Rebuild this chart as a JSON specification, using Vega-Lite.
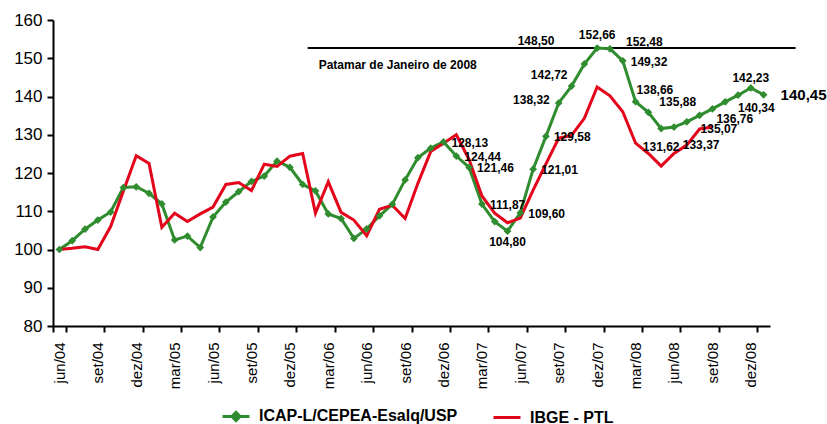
{
  "$schema": "https://vega.github.io/schema/vega-lite/v6.json",
  "width": 717,
  "height": 306,
  "autosize": {"type": "none"},
  "padding": {"left": 53, "top": 20, "right": 57, "bottom": 98},
  "background": "white",
  "config": {
    "view": {"stroke": null},
    "font": "Liberation Sans",
    "locale": {"number": {"decimal": ",", "thousands": ".", "grouping": [3], "currency": ["", ""]}},
    "axis": {"domainColor": "black", "domainWidth": 2, "tickColor": "black", "tickWidth": 2, "tickSize": 6, "labelColor": "black", "labelFont": "Liberation Sans", "grid": false},
    "axisY": {"labelFontSize": 17, "labelPadding": 5},
    "axisX": {"labelFontSize": 15, "labelPadding": 10, "labelAngle": 270}
  },
  "data": {"values": [
    {"m": "jun/04", "ICAP": 100.0, "IBGE": 100.0},
    {"m": "jul/04", "ICAP": 102.3, "IBGE": 100.3},
    {"m": "ago/04", "ICAP": 105.3, "IBGE": 100.7},
    {"m": "set/04", "ICAP": 107.7, "IBGE": 100.0},
    {"m": "out/04", "ICAP": 109.8, "IBGE": 106.0},
    {"m": "nov/04", "ICAP": 116.2, "IBGE": 115.3},
    {"m": "dez/04", "ICAP": 116.4, "IBGE": 124.5},
    {"m": "jan/05", "ICAP": 114.7, "IBGE": 122.5},
    {"m": "fev/05", "ICAP": 111.9, "IBGE": 105.8},
    {"m": "mar/05", "ICAP": 102.5, "IBGE": 109.5},
    {"m": "abr/05", "ICAP": 103.5, "IBGE": 107.3},
    {"m": "mai/05", "ICAP": 100.5, "IBGE": 109.3},
    {"m": "jun/05", "ICAP": 108.5, "IBGE": 111.1},
    {"m": "jul/05", "ICAP": 112.4, "IBGE": 117.0},
    {"m": "ago/05", "ICAP": 115.1, "IBGE": 117.5},
    {"m": "set/05", "ICAP": 117.8, "IBGE": 115.4},
    {"m": "out/05", "ICAP": 119.2, "IBGE": 122.3},
    {"m": "nov/05", "ICAP": 123.1, "IBGE": 121.7},
    {"m": "dez/05", "ICAP": 121.5, "IBGE": 124.4},
    {"m": "jan/06", "ICAP": 117.0, "IBGE": 125.1},
    {"m": "fev/06", "ICAP": 115.3, "IBGE": 109.5},
    {"m": "mar/06", "ICAP": 109.3, "IBGE": 117.7},
    {"m": "abr/06", "ICAP": 108.1, "IBGE": 109.7},
    {"m": "mai/06", "ICAP": 102.9, "IBGE": 107.7},
    {"m": "jun/06", "ICAP": 105.4, "IBGE": 103.6},
    {"m": "jul/06", "ICAP": 108.8, "IBGE": 110.5},
    {"m": "ago/06", "ICAP": 111.8, "IBGE": 111.6},
    {"m": "set/06", "ICAP": 118.2, "IBGE": 108.1},
    {"m": "out/06", "ICAP": 124.0, "IBGE": 117.3},
    {"m": "nov/06", "ICAP": 126.5, "IBGE": 125.6},
    {"m": "dez/06", "ICAP": 128.13, "IBGE": 127.8},
    {"m": "jan/07", "ICAP": 124.44, "IBGE": 130.0},
    {"m": "fev/07", "ICAP": 121.46, "IBGE": 123.5},
    {"m": "mar/07", "ICAP": 111.87, "IBGE": 114.0},
    {"m": "abr/07", "ICAP": 107.3, "IBGE": 109.5},
    {"m": "mai/07", "ICAP": 104.80, "IBGE": 107.0},
    {"m": "jun/07", "ICAP": 109.60, "IBGE": 108.2},
    {"m": "jul/07", "ICAP": 121.01, "IBGE": 115.5},
    {"m": "ago/07", "ICAP": 129.58, "IBGE": 122.4},
    {"m": "set/07", "ICAP": 138.32, "IBGE": 129.1},
    {"m": "out/07", "ICAP": 142.72, "IBGE": 129.8},
    {"m": "nov/07", "ICAP": 148.50, "IBGE": 134.3},
    {"m": "dez/07", "ICAP": 152.66, "IBGE": 142.5},
    {"m": "jan/08", "ICAP": 152.48, "IBGE": 140.2},
    {"m": "fev/08", "ICAP": 149.32, "IBGE": 136.0},
    {"m": "mar/08", "ICAP": 138.66, "IBGE": 127.8},
    {"m": "abr/08", "ICAP": 135.88, "IBGE": 125.1},
    {"m": "mai/08", "ICAP": 131.62, "IBGE": 121.8},
    {"m": "jun/08", "ICAP": 132.0, "IBGE": 125.1},
    {"m": "jul/08", "ICAP": 133.37, "IBGE": 127.3},
    {"m": "ago/08", "ICAP": 135.07, "IBGE": 131.5},
    {"m": "set/08", "ICAP": 136.76, "IBGE": 132.0},
    {"m": "out/08", "ICAP": 138.6},
    {"m": "nov/08", "ICAP": 140.34},
    {"m": "dez/08", "ICAP": 142.23},
    {"m": "jan/09", "ICAP": 140.45}
  ]},
  "encoding": {
    "x": {
      "field": "m", "type": "ordinal", "title": null,
      "scale": {"type": "band", "paddingInner": 0, "paddingOuter": 0, "domain": ["jun/04","jul/04","ago/04","set/04","out/04","nov/04","dez/04","jan/05","fev/05","mar/05","abr/05","mai/05","jun/05","jul/05","ago/05","set/05","out/05","nov/05","dez/05","jan/06","fev/06","mar/06","abr/06","mai/06","jun/06","jul/06","ago/06","set/06","out/06","nov/06","dez/06","jan/07","fev/07","mar/07","abr/07","mai/07","jun/07","jul/07","ago/07","set/07","out/07","nov/07","dez/07","jan/08","fev/08","mar/08","abr/08","mai/08","jun/08","jul/08","ago/08","set/08","out/08","nov/08","dez/08","jan/09"]},
      "axis": {"values": ["jun/04","set/04","dez/04","mar/05","jun/05","set/05","dez/05","mar/06","jun/06","set/06","dez/06","mar/07","jun/07","set/07","dez/07","mar/08","jun/08","set/08","dez/08"], "tickBand": "extent", "labelAngle": 270, "labelFontSize": 15, "labelPadding": 10}
    }
  },
  "layer": [
    {
      "data": {"values": [{"a": "jan/06", "b": "jan/09", "lvl": 152.66}]},
      "mark": {"type": "rule", "color": "black", "strokeWidth": 2, "xOffset": 5, "x2Offset": 32},
      "encoding": {
        "x": {"field": "a", "type": "ordinal", "title": null},
        "x2": {"field": "b"},
        "y": {"field": "lvl", "type": "quantitative", "title": null, "scale": {"domain": [80, 160], "nice": false, "zero": false}, "axis": {"values": [80, 90, 100, 110, 120, 130, 140, 150, 160]}}
      }
    },
    {
      "data": {"values": [{"a": "jan/06", "lvl": 152.66, "t": "Patamar de Janeiro de 2008"}]},
      "mark": {"type": "text", "align": "left", "baseline": "middle", "dx": 16, "dy": 17, "fontSize": 12, "fontWeight": "bold", "color": "black"},
      "encoding": {
        "x": {"field": "a", "type": "ordinal", "title": null},
        "y": {"field": "lvl", "type": "quantitative", "title": null, "axis": {"values": [80, 90, 100, 110, 120, 130, 140, 150, 160]}},
        "text": {"field": "t"}
      }
    },
    {
      "transform": [{"fold": ["ICAP", "IBGE"], "as": ["s", "v"]}],
      "mark": {"type": "line", "strokeWidth": 3},
      "encoding": {
        "y": {"field": "v", "type": "quantitative", "title": null, "axis": {"values": [80, 90, 100, 110, 120, 130, 140, 150, 160]}},
        "color": {
          "field": "s", "type": "nominal",
          "scale": {"domain": ["ICAP", "IBGE"], "range": ["#2f8c2f", "#e3051b"]},
          "legend": {
            "orient": "none", "legendX": 168, "legendY": 381, "direction": "horizontal", "columns": 2, "title": null,
            "labelFontSize": 16, "labelFontWeight": "bold", "labelFont": "Liberation Sans", "labelColor": "black",
            "symbolSize": 729, "symbolStrokeWidth": 3, "labelOffset": 8, "columnPadding": 29, "padding": 0, "labelLimit": 400,
            "labelExpr": "datum.label == 'ICAP' ? 'ICAP-L/CEPEA-Esalq/USP' : 'IBGE - PTL'",
            "symbolType": "M-1,0H1",
            "encode": {"symbols": {"update": {
              "shape": [{"test": "datum.value == 'ICAP'", "value": "M-1,0H1M0,-0.3L0.3,0L0,0.3L-0.3,0Z"}, {"value": "M-1,0H1"}],
              "fill": [{"test": "datum.value == 'ICAP'", "value": "#2f8c2f"}, {"value": "transparent"}]
            }}}
          }
        }
      }
    },
    {
      "mark": {"type": "point", "shape": "diamond", "filled": true, "size": 60, "color": "#2f8c2f", "opacity": 1},
      "encoding": {"y": {"field": "ICAP", "type": "quantitative", "title": null, "axis": {"values": [80, 90, 100, 110, 120, 130, 140, 150, 160]}}}
    },
    {
      "transform": [{"filter": {"field": "m", "oneOf": ["dez/06","jan/07","fev/07","mar/07","jun/07","jul/07","ago/07","fev/08"]}}],
      "mark": {"type": "text", "align": "left", "baseline": "middle", "dx": 8, "dy": 1, "fontSize": 12, "fontWeight": "bold", "color": "black"},
      "encoding": {"y": {"field": "ICAP", "type": "quantitative", "title": null, "axis": {"values": [80, 90, 100, 110, 120, 130, 140, 150, 160]}}, "text": {"field": "ICAP", "type": "quantitative", "format": ".2f"}}
    },
    {
      "transform": [{"filter": {"field": "m", "oneOf": ["set/07"]}}],
      "mark": {"type": "text", "align": "right", "baseline": "middle", "dx": -9, "dy": -3, "fontSize": 12, "fontWeight": "bold", "color": "black"},
      "encoding": {"y": {"field": "ICAP", "type": "quantitative", "title": null, "axis": {"values": [80, 90, 100, 110, 120, 130, 140, 150, 160]}}, "text": {"field": "ICAP", "type": "quantitative", "format": ".2f"}}
    },
    {
      "transform": [{"filter": {"field": "m", "oneOf": ["out/07"]}}],
      "mark": {"type": "text", "align": "right", "baseline": "middle", "dx": -4, "dy": -11, "fontSize": 12, "fontWeight": "bold", "color": "black"},
      "encoding": {"y": {"field": "ICAP", "type": "quantitative", "title": null, "axis": {"values": [80, 90, 100, 110, 120, 130, 140, 150, 160]}}, "text": {"field": "ICAP", "type": "quantitative", "format": ".2f"}}
    },
    {
      "transform": [{"filter": {"field": "m", "oneOf": ["nov/07"]}}],
      "mark": {"type": "text", "align": "right", "baseline": "middle", "dx": -30, "dy": -23, "fontSize": 12, "fontWeight": "bold", "color": "black"},
      "encoding": {"y": {"field": "ICAP", "type": "quantitative", "title": null, "axis": {"values": [80, 90, 100, 110, 120, 130, 140, 150, 160]}}, "text": {"field": "ICAP", "type": "quantitative", "format": ".2f"}}
    },
    {
      "transform": [{"filter": {"field": "m", "oneOf": ["dez/07"]}}],
      "mark": {"type": "text", "align": "center", "baseline": "middle", "dy": -13, "fontSize": 12, "fontWeight": "bold", "color": "black"},
      "encoding": {"y": {"field": "ICAP", "type": "quantitative", "title": null, "axis": {"values": [80, 90, 100, 110, 120, 130, 140, 150, 160]}}, "text": {"field": "ICAP", "type": "quantitative", "format": ".2f"}}
    },
    {
      "transform": [{"filter": {"field": "m", "oneOf": ["dez/08"]}}],
      "mark": {"type": "text", "align": "center", "baseline": "middle", "dy": -10, "fontSize": 12, "fontWeight": "bold", "color": "black"},
      "encoding": {"y": {"field": "ICAP", "type": "quantitative", "title": null, "axis": {"values": [80, 90, 100, 110, 120, 130, 140, 150, 160]}}, "text": {"field": "ICAP", "type": "quantitative", "format": ".2f"}}
    },
    {
      "transform": [{"filter": {"field": "m", "oneOf": ["jan/08"]}}],
      "mark": {"type": "text", "align": "left", "baseline": "middle", "dx": 16, "dy": -7, "fontSize": 12, "fontWeight": "bold", "color": "black"},
      "encoding": {"y": {"field": "ICAP", "type": "quantitative", "title": null, "axis": {"values": [80, 90, 100, 110, 120, 130, 140, 150, 160]}}, "text": {"field": "ICAP", "type": "quantitative", "format": ".2f"}}
    },
    {
      "transform": [{"filter": {"field": "m", "oneOf": ["mar/08"]}}],
      "mark": {"type": "text", "align": "left", "baseline": "middle", "dx": 1, "dy": -12, "fontSize": 12, "fontWeight": "bold", "color": "black"},
      "encoding": {"y": {"field": "ICAP", "type": "quantitative", "title": null, "axis": {"values": [80, 90, 100, 110, 120, 130, 140, 150, 160]}}, "text": {"field": "ICAP", "type": "quantitative", "format": ".2f"}}
    },
    {
      "transform": [{"filter": {"field": "m", "oneOf": ["abr/08"]}}],
      "mark": {"type": "text", "align": "left", "baseline": "middle", "dx": 11, "dy": -10, "fontSize": 12, "fontWeight": "bold", "color": "black"},
      "encoding": {"y": {"field": "ICAP", "type": "quantitative", "title": null, "axis": {"values": [80, 90, 100, 110, 120, 130, 140, 150, 160]}}, "text": {"field": "ICAP", "type": "quantitative", "format": ".2f"}}
    },
    {
      "transform": [{"filter": {"field": "m", "oneOf": ["mai/07"]}}],
      "mark": {"type": "text", "align": "center", "baseline": "middle", "dy": 11, "fontSize": 12, "fontWeight": "bold", "color": "black"},
      "encoding": {"y": {"field": "ICAP", "type": "quantitative", "title": null, "axis": {"values": [80, 90, 100, 110, 120, 130, 140, 150, 160]}}, "text": {"field": "ICAP", "type": "quantitative", "format": ".2f"}}
    },
    {
      "transform": [{"filter": {"field": "m", "oneOf": ["mai/08"]}}],
      "mark": {"type": "text", "align": "center", "baseline": "middle", "dy": 18, "fontSize": 12, "fontWeight": "bold", "color": "black"},
      "encoding": {"y": {"field": "ICAP", "type": "quantitative", "title": null, "axis": {"values": [80, 90, 100, 110, 120, 130, 140, 150, 160]}}, "text": {"field": "ICAP", "type": "quantitative", "format": ".2f"}}
    },
    {
      "transform": [{"filter": {"field": "m", "oneOf": ["jul/08"]}}],
      "mark": {"type": "text", "align": "left", "baseline": "middle", "dx": -4, "dy": 23, "fontSize": 12, "fontWeight": "bold", "color": "black"},
      "encoding": {"y": {"field": "ICAP", "type": "quantitative", "title": null, "axis": {"values": [80, 90, 100, 110, 120, 130, 140, 150, 160]}}, "text": {"field": "ICAP", "type": "quantitative", "format": ".2f"}}
    },
    {
      "transform": [{"filter": {"field": "m", "oneOf": ["ago/08"]}}],
      "mark": {"type": "text", "align": "left", "baseline": "middle", "dx": 1, "dy": 14, "fontSize": 12, "fontWeight": "bold", "color": "black"},
      "encoding": {"y": {"field": "ICAP", "type": "quantitative", "title": null, "axis": {"values": [80, 90, 100, 110, 120, 130, 140, 150, 160]}}, "text": {"field": "ICAP", "type": "quantitative", "format": ".2f"}}
    },
    {
      "transform": [{"filter": {"field": "m", "oneOf": ["set/08"]}}],
      "mark": {"type": "text", "align": "left", "baseline": "middle", "dx": 4, "dy": 10, "fontSize": 12, "fontWeight": "bold", "color": "black"},
      "encoding": {"y": {"field": "ICAP", "type": "quantitative", "title": null, "axis": {"values": [80, 90, 100, 110, 120, 130, 140, 150, 160]}}, "text": {"field": "ICAP", "type": "quantitative", "format": ".2f"}}
    },
    {
      "transform": [{"filter": {"field": "m", "oneOf": ["nov/08"]}}],
      "mark": {"type": "text", "align": "left", "baseline": "middle", "dx": 0, "dy": 13, "fontSize": 12, "fontWeight": "bold", "color": "black"},
      "encoding": {"y": {"field": "ICAP", "type": "quantitative", "title": null, "axis": {"values": [80, 90, 100, 110, 120, 130, 140, 150, 160]}}, "text": {"field": "ICAP", "type": "quantitative", "format": ".2f"}}
    },
    {
      "transform": [{"filter": {"field": "m", "oneOf": ["jan/09"]}}],
      "mark": {"type": "text", "align": "left", "baseline": "middle", "dx": 17, "dy": 0, "fontSize": 15, "fontWeight": "bold", "color": "black"},
      "encoding": {"y": {"field": "ICAP", "type": "quantitative", "title": null, "axis": {"values": [80, 90, 100, 110, 120, 130, 140, 150, 160]}}, "text": {"field": "ICAP", "type": "quantitative", "format": ".2f"}}
    }
  ]
}
